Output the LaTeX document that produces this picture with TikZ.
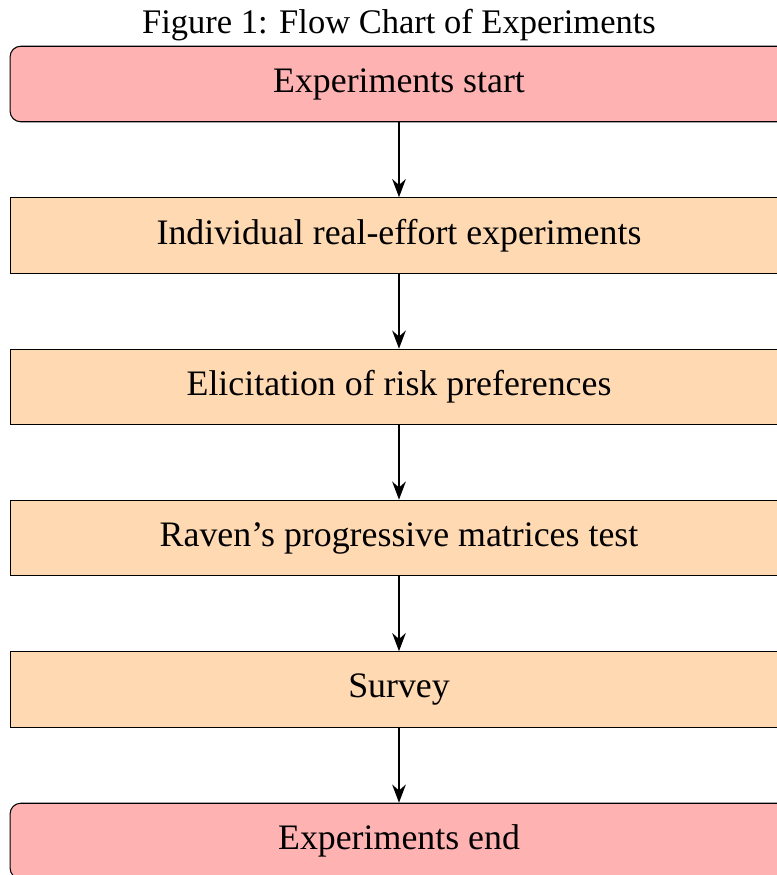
\documentclass[tikz,border=0pt]{standalone}
\usepackage{fontspec}
\setmainfont{Liberation Serif}
\usetikzlibrary{arrows.meta}
\tikzset{
  px/.style={x=0.3768pt,y=-0.3768pt},
  boxbase/.style={rectangle, minimum width=293.1pt, minimum height=1cm, text centered, draw=black, inner sep=0pt, font=\fontsize{13.5}{16}\selectfont},
  startstop/.style={boxbase, rounded corners, fill=red!30},
  process/.style={boxbase, fill=orange!30},
  flowarrow/.style={thick, -{Stealth[length=2.4mm,width=1.8mm]}},
  captiontext/.style={font=\fontsize{13}{15}\selectfont, inner sep=0pt}
}
\begin{document}
\begin{tikzpicture}[px]
\useasboundingbox (0,0) rectangle (777,875);
\node[captiontext] (cap) at (399,25) {Figure 1: Flow Chart of Experiments};
\node[startstop] (start) at (399,84) {Experiments start};
\node[process] (p1) at (399,235.5) {Individual real-effort experiments};
\node[process] (p2) at (399,387) {Elicitation of risk preferences};
\node[process] (p3) at (399,538) {Raven’s progressive matrices test};
\node[process] (p4) at (399,689.5) {Survey};
\node[startstop] (stop) at (399,841) {Experiments end};
\draw[flowarrow] (start) -- (p1);
\draw[flowarrow] (p1) -- (p2);
\draw[flowarrow] (p2) -- (p3);
\draw[flowarrow] (p3) -- (p4);
\draw[flowarrow] (p4) -- (stop);
\end{tikzpicture}
\end{document}
